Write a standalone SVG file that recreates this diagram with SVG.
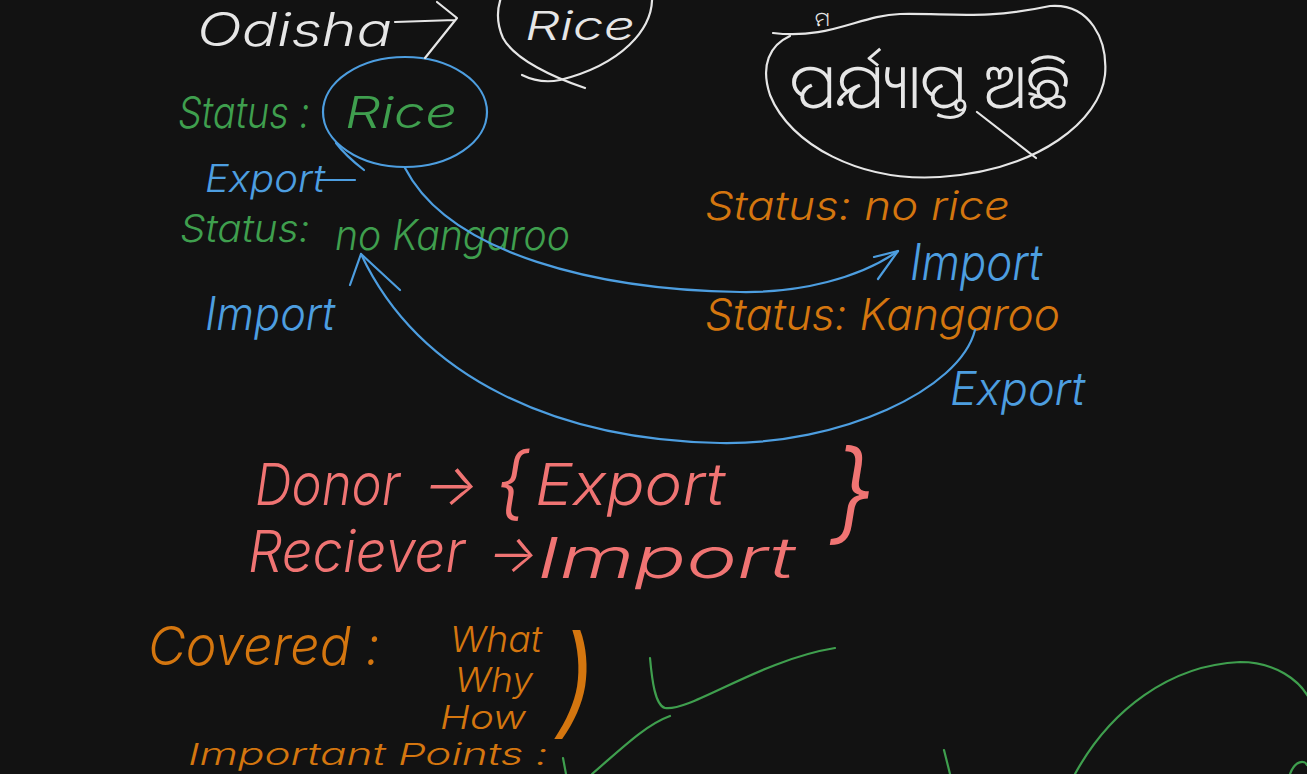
<svg xmlns="http://www.w3.org/2000/svg" width="1307" height="774" viewBox="0 0 1307 774">
<defs>
<style>
.t{font-family:Inter,"Liberation Sans",sans-serif;font-weight:300;font-style:italic}
.w{fill:#e6e6e6}.g{fill:#3f9f4e}.b{fill:#4d9ee0}.o{fill:#d4760f}.r{fill:#f07473}
.s{fill:none;stroke-width:2.2;stroke-linecap:round;stroke-linejoin:round}
.sw{stroke:#e6e6e6}.sb{stroke:#4d9ee0}.sg{stroke:#3f9f4e}.so{stroke:#d4760f}
.odia{font-family:"Noto Sans Oriya","Noto Sans",sans-serif;font-weight:300}
</style>
</defs>
<rect width="1307" height="774" fill="#121212"/>
<g id="odisha"><text class="t w" x="197" y="46" font-size="46" textLength="195" lengthAdjust="spacingAndGlyphs">Odisha</text></g>
<g id="rice-top">
<path class="s sw" d="M585,88 C555,78 515,60 503,38 C495,20 498,5 502,-5"/>
<path class="s sw" d="M652,-5 C654,30 620,65 560,80 C545,83 532,80 522,75"/>
<text class="t w" x="525" y="40" font-size="40" textLength="110" lengthAdjust="spacingAndGlyphs">Rice</text>
</g>
<g id="odia-top"><text class="odia w" x="815" y="26" font-size="20">ମ</text></g>
<g id="odia-node">
<path class="s sw" d="M773,33 C830,40 860,15 900,14 C950,13 985,20 1050,6 C1090,3 1108,40 1105,75 C1100,120 1040,170 940,177 C860,182 790,145 770,95 C760,65 770,45 790,36"/>
<path class="s sw" d="M977,112 L1036,158"/>
<text class="odia w" x="790" y="108" font-size="62" textLength="280" lengthAdjust="spacingAndGlyphs">ପର୍ଯ୍ୟାପ୍ତ ଅଛି</text>
</g>
<g id="status-rice">
<text class="t g" x="178" y="128" font-size="44" textLength="132" lengthAdjust="spacingAndGlyphs">Status :</text>
<text class="t g" x="345" y="128" font-size="44" textLength="112" lengthAdjust="spacingAndGlyphs">Rice</text>
<ellipse class="s sb" cx="405" cy="112" rx="82" ry="55"/>
<path class="s sb" d="M336,143 C345,155 355,163 364,170"/>
</g>
<g id="export-left">
<text class="t b" x="205" y="192" font-size="38" textLength="120" lengthAdjust="spacingAndGlyphs">Export</text>
<path class="s sb" d="M318,180 L355,180"/>
</g>
<g id="status-nokangaroo">
<text class="t g" x="180" y="242" font-size="38" textLength="130" lengthAdjust="spacingAndGlyphs">Status:</text>
<text class="t g" x="335" y="250" font-size="42" textLength="235" lengthAdjust="spacingAndGlyphs">no Kangaroo</text>
</g>
<g id="import-left">
<text class="t b" x="205" y="330" font-size="46" textLength="130" lengthAdjust="spacingAndGlyphs">Import</text>
</g>
<g id="status-norice"><text class="t o" x="705" y="220" font-size="40" textLength="305" lengthAdjust="spacingAndGlyphs">Status: no rice</text></g>
<g id="import-right"><text class="t b" x="910" y="280" font-size="50" textLength="132" lengthAdjust="spacingAndGlyphs">Import</text></g>
<g id="status-kangaroo"><text class="t o" x="705" y="330" font-size="44" textLength="355" lengthAdjust="spacingAndGlyphs">Status: Kangaroo</text></g>
<g id="export-right"><text class="t b" x="950" y="405" font-size="46" textLength="135" lengthAdjust="spacingAndGlyphs">Export</text></g>
<g id="connectors">
<path class="s sb" d="M405,168 C450,255 600,290 740,292 C800,293 860,278 898,251"/>
<path class="s sb" d="M874,257 L898,251 L878,279"/>
<path class="s sb" d="M975,330 C960,390 840,445 720,443 C560,440 420,380 361,254"/>
<path class="s sb" d="M350,285 L361,254 L400,290"/>
<path class="s sw" d="M395,22 L455,20 M437,2 L457,18 L425,58"/>
</g>
<g id="donor">
<text class="t r" x="255" y="505" font-size="58" textLength="145" lengthAdjust="spacingAndGlyphs">Donor</text>
<text class="t r" x="423" y="505" font-size="58">→</text>
<text class="t r" x="495" y="510" font-size="80">{</text>
<text class="t r" x="535" y="505" font-size="58" textLength="190" lengthAdjust="spacingAndGlyphs">Export</text>
</g>
<g id="reciever">
<text class="t r" x="248" y="572" font-size="58" textLength="217" lengthAdjust="spacingAndGlyphs">Reciever</text>
<text class="t r" x="488" y="572" font-size="52">→</text>
<text class="t r" x="537" y="578" font-size="56" textLength="258" lengthAdjust="spacingAndGlyphs">Import</text>
</g>
<g id="brace"><text class="t r" x="830" y="530" font-size="110">}</text></g>
<g id="covered">
<text class="t o" x="148" y="665" font-size="54" textLength="232" lengthAdjust="spacingAndGlyphs">Covered :</text>
<text class="t o" x="450" y="652" font-size="36" textLength="92" lengthAdjust="spacingAndGlyphs">What</text>
<text class="t o" x="455" y="692" font-size="34" textLength="78" lengthAdjust="spacingAndGlyphs">Why</text>
<text class="t o" x="440" y="729" font-size="32" textLength="86" lengthAdjust="spacingAndGlyphs">How</text>
<text class="t o" x="556" y="722" font-size="120" font-weight="200">)</text>
<text class="t o" x="188" y="765" font-size="30" textLength="360" lengthAdjust="spacingAndGlyphs">Important Points :</text>
</g>
<g id="green-marks">
<path class="s sg" d="M650,658 C652,680 655,705 665,708 C690,712 760,660 835,648"/>
<path class="s sg" d="M592,774 C620,750 645,725 670,716"/>
<path class="s sg" d="M563,758 L566,774"/>
<path class="s sg" d="M1075,774 C1110,710 1170,665 1240,662 C1275,662 1300,680 1310,700"/>
<path class="s sg" d="M944,750 L950,774"/>
<path class="s sg" d="M1290,774 C1295,760 1305,760 1307,765"/>
</g>
</svg>
